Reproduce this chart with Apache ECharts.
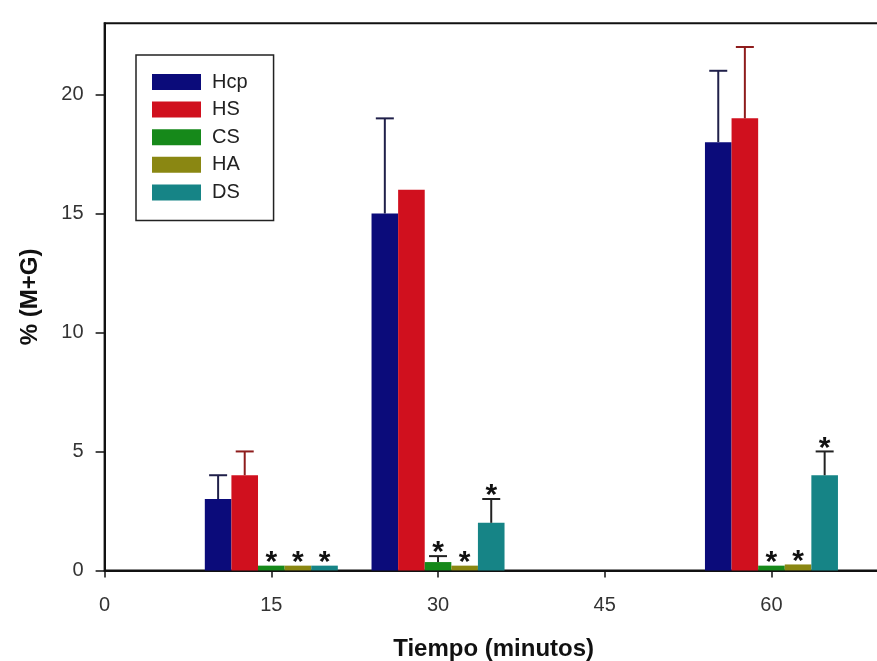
<!DOCTYPE html>
<html>
<head>
<meta charset="utf-8">
<script src="https://cdn.jsdelivr.net/npm/echarts@6/dist/echarts.min.js"></script>
<style>html,body{margin:0;padding:0;background:#fff}#c{width:877px;height:661px}</style>
</head>
<body>
<div id="c"></div>
<script>
// x categories every 5 minutes; only these are labelled
const minutes = ['0','5','10','15','20','25','30','35','40','45','50','55','60','65','70'];
const tickLabels = ['0','15','30','45','60'];
const times = [15, 30, 60];
const seriesNames = ['Hcp', 'HS', 'CS', 'HA', 'DS'];
const Hcp = [3, 15, 18];
const HS = [4, 16, 19];
const CS = [0.2, 0.35, 0.2];
const HA = [0.2, 0.2, 0.25];
const DS = [0.2, 2, 4];
const HcpErr = [1, 4, 3];
const HSErr = [1, 0, 3];
const CSErr = [0, 0.25, 0];
const HAErr = [0, 0, 0];
const DSErr = [0, 1, 1];
const HcpSig = [0, 0, 0];
const HSSig = [0, 0, 0];
const CSSig = [1, 1, 1];
const HASig = [1, 1, 1];
const DSSig = [1, 1, 1];
const yTicks = [0, 5, 10, 15, 20];

const values = [Hcp, HS, CS, HA, DS];
const errs = [HcpErr, HSErr, CSErr, HAErr, DSErr];
const sigs = [HcpSig, HSSig, CSSig, HASig, DSSig];
const colors = ['#0b0b7a', '#d0101e', '#16891a', '#8a8712', '#168486'];
const errColors = ['#20204a', '#8e1c1c', '#222', '#222', '#222'];
const BW = 26.6;
const FONT = '"Liberation Sans", Arial, sans-serif';

const barSeries = seriesNames.map((name, si) => ({
  name, type: 'bar', barWidth: BW, barGap: '0%',
  itemStyle: { color: colors[si] },
  data: minutes.map(m => { const k = times.indexOf(+m); return k >= 0 ? values[si][k] : null; })
}));

const errData = [];
seriesNames.forEach((name, si) => {
  times.forEach((t, k) => {
    errData.push([minutes.indexOf(String(t)), values[si][k], errs[si][k], si, sigs[si][k]]);
  });
});

const chart = echarts.init(document.getElementById('c'), null, { renderer: 'canvas' });
chart.setOption({
  animation: false,
  textStyle: { fontFamily: FONT },
  grid: { left: 104.6, top: 23.2, bottom: 90.6, width: 778, containLabel: false,
    outerBoundsMode: 'none',
    show: true, borderColor: '#111', borderWidth: 2, backgroundColor: 'transparent' },
  legend: {
    data: seriesNames, orient: 'vertical', left: 136, top: 55,
    icon: 'rect', itemWidth: 49, itemHeight: 16, itemGap: 7.6,
    padding: [17, 26, 18, 16],
    borderColor: '#222', borderWidth: 1.5, selectedMode: false,
    textStyle: { fontSize: 20, color: '#222', fontFamily: FONT, padding: [0, 0, 0, 6] }
  },
  xAxis: {
    type: 'category', data: minutes, boundaryGap: false,
    axisLine: { lineStyle: { color: '#111', width: 2 } },
    axisTick: { length: 7, lineStyle: { color: '#111', width: 1.5 },
      interval: (i, v) => tickLabels.indexOf(v) >= 0 },
    axisLabel: { interval: (i, v) => tickLabels.indexOf(v) >= 0, margin: 25,
      fontSize: 20, color: '#333', fontFamily: FONT },
    splitLine: { show: false },
    name: 'Tiempo (minutos)', nameLocation: 'middle', nameGap: 67,
    nameTextStyle: { fontSize: 24, fontWeight: 'bold', color: '#111', fontFamily: FONT }
  },
  yAxis: {
    type: 'value', min: 0, max: 23, interval: 5,
    axisLine: { show: true, lineStyle: { color: '#111', width: 2 } },
    axisTick: { show: true, length: 9, customValues: yTicks, lineStyle: { color: '#111', width: 1.5 } },
    axisLabel: { customValues: yTicks, margin: 21, fontSize: 20, color: '#333', fontFamily: FONT },
    splitLine: { show: false },
    name: '% (M+G)', nameLocation: 'middle', nameGap: 62,
    nameTextStyle: { fontSize: 24, fontWeight: 'bold', color: '#111', fontFamily: FONT }
  },
  series: barSeries.concat([{
    type: 'custom', name: 'err', z: 5,
    encode: { x: 0, y: 1 },
    data: errData,
    renderItem(params, api) {
      const cat = api.value(0), v = api.value(1), e = api.value(2), si = api.value(3), sig = api.value(4);
      const base = api.coord([cat, v]);
      const x = base[0] + (si - 2) * BW;
      const yTop = api.coord([cat, v + e])[1];
      const children = [];
      if (e > 0) {
        children.push({ type: 'line', shape: { x1: x, y1: base[1], x2: x, y2: yTop },
          style: { stroke: errColors[si], lineWidth: 2 } });
        children.push({ type: 'line', shape: { x1: x - 9, y1: yTop, x2: x + 9, y2: yTop },
          style: { stroke: errColors[si], lineWidth: 2 } });
      }
      if (sig) {
        children.push({ type: 'text', style: { text: '*', x: x, y: yTop - 3,
          fill: '#111', font: 'bold 30px ' + FONT, align: 'center', verticalAlign: 'middle' } });
      }
      return { type: 'group', children };
    }
  }])
});
</script>
</body>
</html>
